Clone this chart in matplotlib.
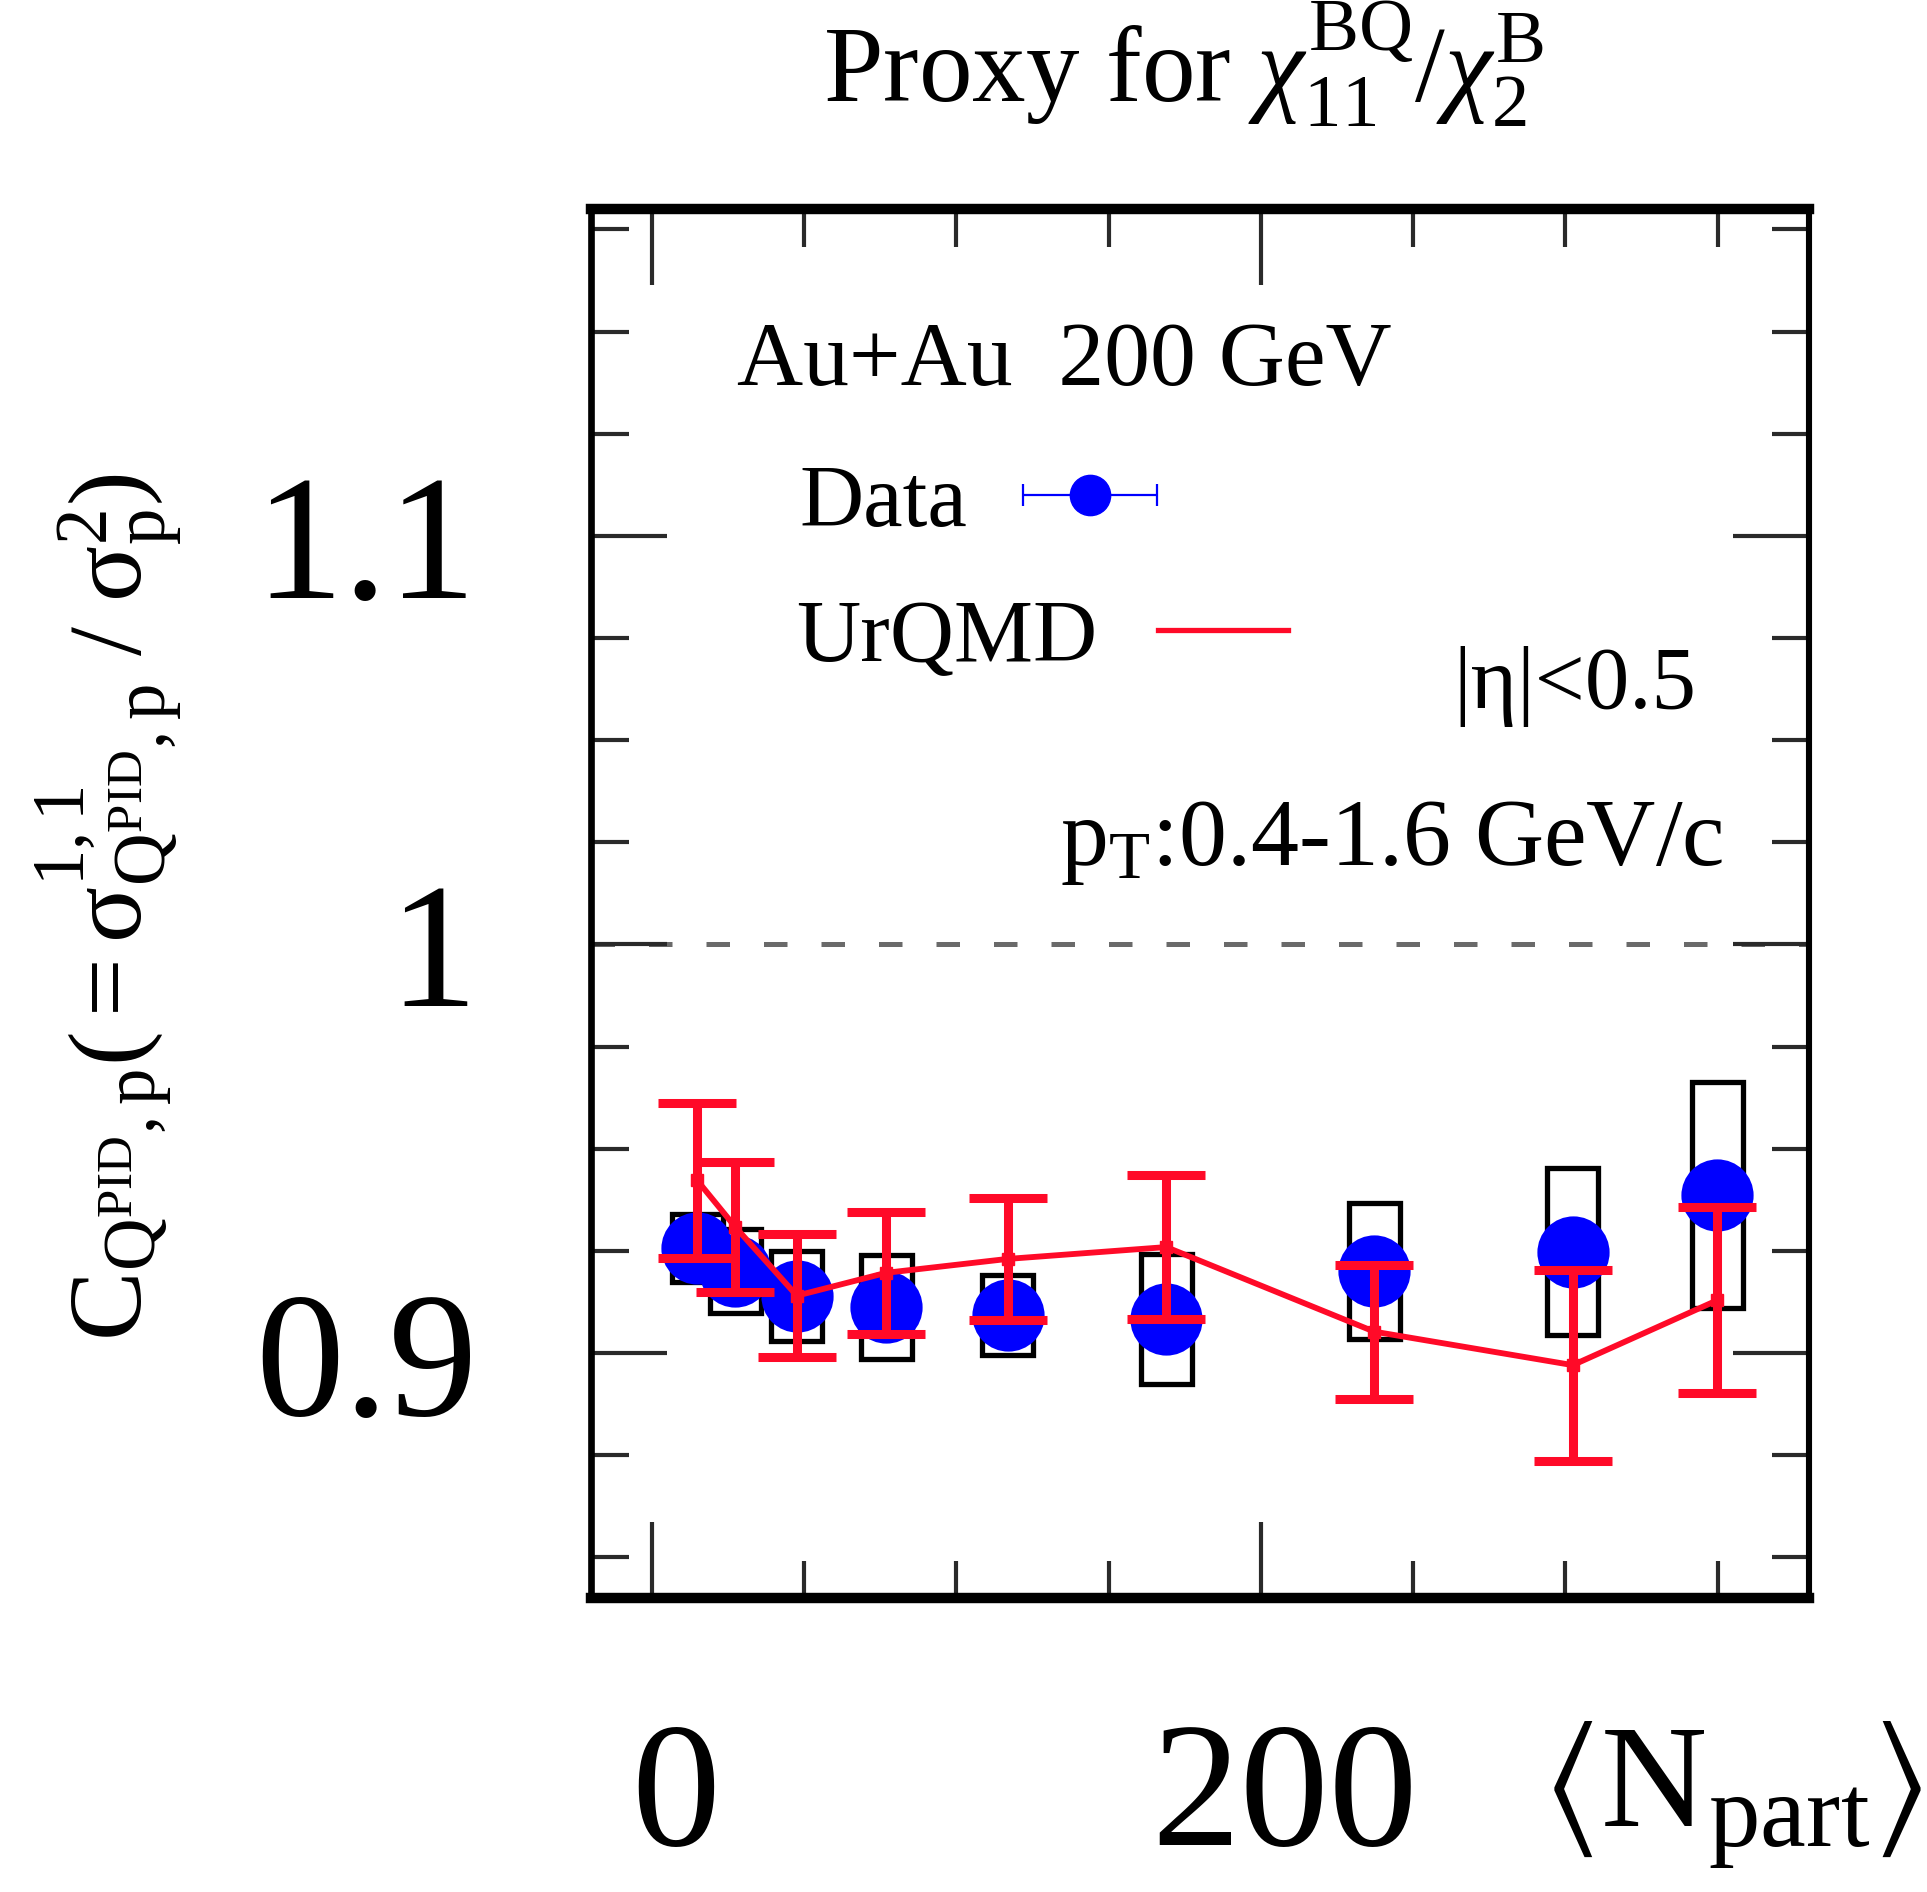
import matplotlib
matplotlib.use("Agg")
import matplotlib.pyplot as plt
from matplotlib.patches import Rectangle
from matplotlib.ticker import MultipleLocator
from matplotlib.transforms import ScaledTranslation

plt.rcParams['font.family'] = ['Liberation Serif', 'DejaVu Serif']
plt.rcParams['mathtext.fontset'] = 'custom'
plt.rcParams['mathtext.rm'] = 'Liberation Serif'
plt.rcParams['mathtext.it'] = 'Liberation Serif:italic'
plt.rcParams['mathtext.bf'] = 'Liberation Serif:bold'
plt.rcParams['mathtext.fallback'] = 'stix'

# Centrality classes, <N_part>
npart = [14.9, 27.4, 47.6, 76.9, 116.8, 168.9, 237.2, 302.4, 349.9]

# STAR data points and systematic uncertainties
data_val = [0.9257, 0.9200, 0.9140, 0.9113, 0.9093, 0.9083, 0.9201, 0.9248, 0.9386]
data_sys = [0.0084, 0.0103, 0.0110, 0.0127, 0.0098, 0.0158, 0.0166, 0.0205, 0.0276]

# UrQMD model values and errors
urqmd_val = [0.9422, 0.9308, 0.9140, 0.9196, 0.9230, 0.9259, 0.9052, 0.8970, 0.9129]
urqmd_err = [0.0190, 0.0159, 0.0151, 0.0150, 0.0150, 0.0177, 0.0164, 0.0234, 0.0227]

x_ticks = [0, 200]
x_tick_labels = ['0', '200']
y_ticks = [0.9, 1.0, 1.1]
y_tick_labels = ['0.9', '1', '1.1']

BLUE = '#0000ff'
RED = '#ff0a28'

fig = plt.figure(figsize=(19.27, 18.92), dpi=100)
ax = fig.add_axes([0.3067, 0.1554, 0.6321, 0.7341])
ax.set_xlim(-20, 380)
ax.set_ylim(0.84, 1.18)

# reference line at unity
ax.axhline(1.0, color='#6a6a6a', lw=3.6, linestyle=(0, (4.7, 6.8)), zorder=1)

# systematic boxes
box_w = 16.7
for x, y, s in zip(npart, data_val, data_sys):
    ax.add_patch(Rectangle((x - box_w / 2, y - s), box_w, 2 * s,
                           fill=False, edgecolor='black', lw=3.8, zorder=2))

# data points
ax.plot(npart, data_val, 'o', color=BLUE, ms=52, mec='none', zorder=3)

# UrQMD curve with errors
ax.errorbar(npart, urqmd_val, yerr=urqmd_err, color=RED, lw=4.2,
            elinewidth=6.5, capsize=28, capthick=6.5, marker='s', ms=9,
            zorder=4)

# axis ticks
ax.set_xticks(x_ticks, labels=x_tick_labels)
ax.set_yticks(y_ticks, labels=y_tick_labels)
ax.xaxis.set_minor_locator(MultipleLocator(50))
ax.yaxis.set_minor_locator(MultipleLocator(0.025))
ax.tick_params(which='both', direction='in', top=True, right=True,
               color='#2a2a2a', width=3.0)
ax.tick_params(which='major', length=55)
ax.tick_params(which='minor', length=27)
ax.tick_params(axis='x', which='major', labelsize=128, pad=89)
ax.tick_params(axis='y', which='major', labelsize=128, pad=82)
shift = ScaledTranslation(17 / 72, 0, fig.dpi_scale_trans)
for lab in ax.get_xticklabels():
    lab.set_transform(lab.get_transform() + shift)

for side, w in (('left', 4.8), ('right', 4.4), ('bottom', 7.5), ('top', 7.5)):
    ax.spines[side].set_linewidth(w)

# annotations and legend
ax.text(0.1202, 0.873, 'Au+Au  200 GeV', transform=ax.transAxes,
        fontsize=66, ha='left', va='baseline')
ax.text(0.171, 0.772, 'Data', transform=ax.transAxes,
        fontsize=64, ha='left', va='baseline')
ax.text(0.168, 0.6746, 'UrQMD', transform=ax.transAxes,
        fontsize=64, ha='left', va='baseline')
ax.errorbar([0.4097], [0.7941], xerr=[0.055], transform=ax.transAxes,
            color=BLUE, marker='o', ms=29, lw=1.6, capsize=8, capthick=1.6,
            clip_on=False, zorder=5)
ax.plot([0.4655, 0.5722], [0.6969, 0.6969], transform=ax.transAxes,
        color=RED, lw=3.8, clip_on=False, zorder=5)
ax.text(0.7077, 0.6407, '|η|<0.5', transform=ax.transAxes,
        fontsize=64, ha='left', va='baseline')
ax.text(0.385, 0.5277, r'p$_{\mathrm{T}}$:0.4-1.6 GeV/c', transform=ax.transAxes,
        fontsize=69, ha='left', va='baseline')

fig.text(0.6139, 0.9461, r'Proxy for $\chi^{\mathrm{BQ}}_{11}/\chi^{\mathrm{B}}_{2}$',
         fontsize=77, ha='center', va='baseline')
fig.text(0.8985, 0.0344, r'$\langle\mathrm{N}_{\mathrm{part}}\rangle$',
         fontsize=106, ha='center', va='baseline')
fig.text(0.0565, 0.5206,
         r'$\mathrm{C}_{\mathrm{Q}^{\mathrm{PID}},\mathrm{p}}'
         r'(=\mathrm{\sigma}^{1,1}_{\mathrm{Q}^{\mathrm{PID}},\mathrm{p}}'
         r'\ /\ \mathrm{\sigma}^{2}_{\mathrm{p}})$',
         fontsize=75, rotation=90, ha='center', va='center')

fig.savefig('out.png', dpi=100)
